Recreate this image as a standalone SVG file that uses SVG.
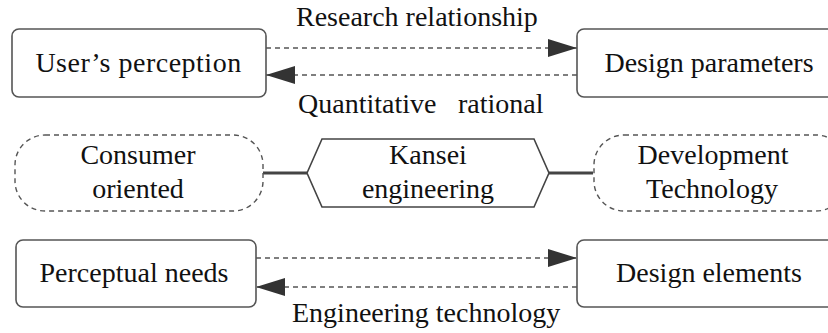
<svg xmlns="http://www.w3.org/2000/svg" width="828" height="333" viewBox="0 0 828 333">
  <style>
    text { font-family: 'Liberation Serif', 'Times New Roman', serif; font-size: 28px; fill: #111; }
    .mid { text-anchor: middle; }
    .box { fill: #fff; stroke: #555; stroke-width: 1.6; }
    .dbox { fill: #fff; stroke: #555; stroke-width: 1.4; stroke-dasharray: 5 4; }
    .hex { fill: #fff; stroke: #444; stroke-width: 1.6; }
    .dash { fill: none; stroke: #555; stroke-width: 1.5; stroke-dasharray: 5 4; }
    .link { fill: none; stroke: #444; stroke-width: 3.2; }
  </style>
  <defs>
    <marker id="arrow" markerUnits="userSpaceOnUse" markerWidth="29" markerHeight="18" refX="29" refY="9" orient="auto">
      <path d="M0,0 L29,9 L0,18 z" fill="#333"/>
    </marker>
  </defs>

  <!-- connectors and their labels -->
  <g id="connectors">
    <line class="dash" x1="266" y1="48" x2="577" y2="48" marker-end="url(#arrow)"/>
    <line class="dash" x1="577" y1="75" x2="266" y2="75" marker-end="url(#arrow)"/>
    <line class="link" x1="263" y1="173" x2="307" y2="173"/>
    <line class="link" x1="549" y1="173" x2="593" y2="173"/>
    <line class="dash" x1="256" y1="258" x2="577" y2="258" marker-end="url(#arrow)"/>
    <line class="dash" x1="577" y1="287" x2="256" y2="287" marker-end="url(#arrow)"/>
    <text x="296" y="26">Research relationship</text>
    <text x="298" y="113">Quantitative</text>
    <text x="458" y="113">rational</text>
    <text x="292" y="322">Engineering technology</text>
  </g>

  <!-- top row -->
  <g id="users-perception">
    <rect class="box" x="12" y="29" width="254" height="68" rx="7"/>
    <text class="mid" x="138.5" y="72" letter-spacing="0.5">User’s perception</text>
  </g>
  <g id="design-parameters">
    <rect class="box" x="577" y="29" width="264" height="68" rx="7"/>
    <text class="mid" x="709" y="72">Design parameters</text>
  </g>

  <!-- middle row -->
  <g id="consumer-oriented">
    <rect class="dbox" x="15" y="135" width="248" height="76" rx="30"/>
    <text class="mid" x="138" y="164">Consumer</text>
    <text class="mid" x="138" y="198">oriented</text>
  </g>
  <g id="kansei-engineering">
    <polygon class="hex" points="307,173 322,139 534,139 549,173 534,207 322,207"/>
    <text class="mid" x="428" y="164">Kansei</text>
    <text class="mid" x="428" y="198">engineering</text>
  </g>
  <g id="development-technology">
    <rect class="dbox" x="594" y="135" width="252" height="76" rx="30"/>
    <text class="mid" x="713" y="164">Development</text>
    <text class="mid" x="712" y="198">Technology</text>
  </g>

  <!-- bottom row -->
  <g id="perceptual-needs">
    <rect class="box" x="16" y="240" width="240" height="67" rx="7"/>
    <text class="mid" x="134" y="282">Perceptual needs</text>
  </g>
  <g id="design-elements">
    <rect class="box" x="577" y="240" width="264" height="67" rx="7"/>
    <text class="mid" x="709" y="282">Design elements</text>
  </g>
</svg>
